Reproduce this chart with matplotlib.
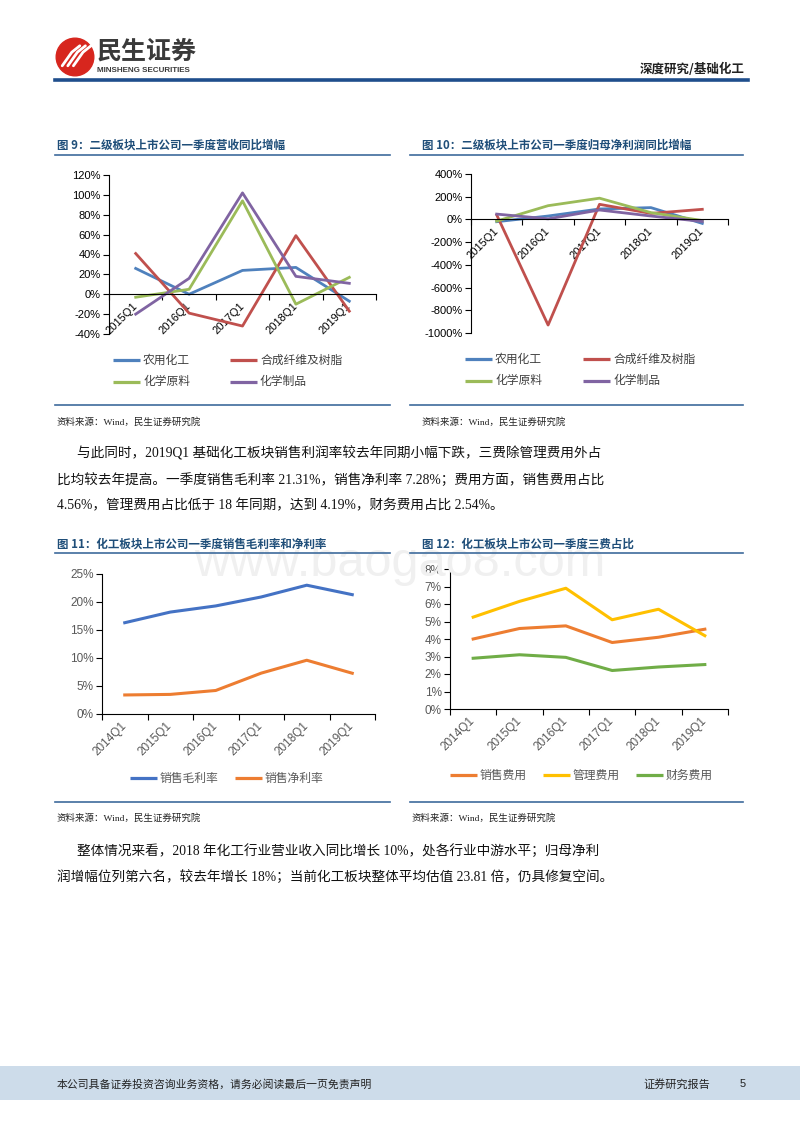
import matplotlib
matplotlib.use("Agg")
import matplotlib.pyplot as plt
from matplotlib.lines import Line2D
from matplotlib.patches import Circle
from matplotlib.ticker import FuncFormatter

W, H = 800, 1132
CJK = ["Noto Sans CJK SC", "DejaVu Sans"]
SERIF = ["Liberation Serif", "Noto Sans CJK SC"]
NUM = ["Liberation Sans", "DejaVu Sans"]
TITLE_BLUE = "#1f4e79"
RULE_BLUE = "#3e6b9c"

# ---- data ----
quarters5 = ["2015Q1", "2016Q1", "2017Q1", "2018Q1", "2019Q1"]
quarters6 = ["2014Q1", "2015Q1", "2016Q1", "2017Q1", "2018Q1", "2019Q1"]

series4 = ["农用化工", "合成纤维及树脂", "化学原料", "化学制品"]
colors4 = ["#4f81bd", "#c0504d", "#9bbb59", "#8064a2"]

# fig 9: revenue yoy growth (%)
rev_agri = [26, 0, 24, 27, -7]
rev_fiber = [41, -19, -32, 59, -17]
rev_raw = [-3, 5, 94, -10, 17]
rev_prod = [-20, 16, 102, 18, 11]

# fig 10: net profit yoy growth (%)
np_agri = [-20, 30, 92, 104, -35]
np_fiber = [40, -930, 133, 53, 89]
np_raw = [-15, 121, 187, 60, -10]
np_prod = [47, 5, 83, 30, -18]

# fig 11: margins (%)
margin_names = ["销售毛利率", "销售净利率"]
margin_colors = ["#4472c4", "#ed7d31"]
gross_margin = [16.3, 18.2, 19.3, 20.9, 23.0, 21.31]
net_margin = [3.4, 3.5, 4.2, 7.3, 9.6, 7.28]

# fig 12: expense ratios (%)
fee_names = ["销售费用", "管理费用", "财务费用"]
fee_colors = ["#ed7d31", "#ffc000", "#70ad47"]
sell_fee = [4.0, 4.6, 4.75, 3.8, 4.1, 4.56]
admin_fee = [5.25, 6.15, 6.9, 5.1, 5.7, 4.19]
fin_fee = [2.9, 3.1, 2.95, 2.2, 2.4, 2.54]

fig = plt.figure(figsize=(W / 100, H / 100), dpi=100)


def fx(x):
    return x / W


def fy(y):
    return 1 - y / H


def add_axes(x0, y0, x1, y1):
    return fig.add_axes([fx(x0), fy(y1), (x1 - x0) / W, (y1 - y0) / H])


def hline(x0, x1, y, color=RULE_BLUE, lw=1.2):
    fig.add_artist(Line2D([fx(x0), fx(x1)], [fy(y), fy(y)], transform=fig.transFigure,
                          color=color, lw=lw))


def style(ax, cats, yticks, zero_axis, label_color, size):
    # spine position first: moving it resets the tick labels
    for s in ("top", "right"):
        ax.spines[s].set_visible(False)
    for s in ("left", "bottom"):
        ax.spines[s].set_linewidth(0.8)
    if zero_axis:
        ax.spines["bottom"].set_position(("data", 0))
    n = len(cats)
    ax.set_xlim(0, n)
    ax.set_xticks([i + 0.5 for i in range(n)])
    ax.set_xticklabels(cats, rotation=45, ha="right", va="center",
                       rotation_mode="anchor", fontfamily=NUM, fontsize=size,
                       color=label_color)
    ax.set_xticks(range(n + 1), minor=True)
    ax.tick_params(axis="x", which="major", length=0, pad=7)
    ax.tick_params(axis="x", which="minor", length=4, direction="out", width=0.8)
    ax.set_yticks(yticks)
    ax.set_ylim(yticks[0], yticks[-1])
    ax.yaxis.set_major_formatter(FuncFormatter(lambda v, p: f"{v:.0f}%"))
    ax.tick_params(axis="y", length=4, direction="out", width=0.8, pad=2,
                   labelsize=size, labelcolor=label_color)
    for lab in ax.get_yticklabels():
        lab.set_fontfamily(NUM)
    ax.patch.set_alpha(0)


def legend(lines, spots, text_color="#404040"):
    for ln, (hx, y) in zip(lines, spots):
        fig.add_artist(Line2D([fx(hx), fx(hx + 27)], [fy(y), fy(y)], transform=fig.transFigure,
                              color=ln.get_color(), lw=2.3, solid_capstyle="butt"))
        fig.text(fx(hx + 30), fy(y), ln.get_label(), fontsize=8.5, family=CJK,
                 color=text_color, va="center", ha="left")


# ---- header ----
logo = add_axes(55, 37, 95, 77)
logo.set_xlim(0, 1)
logo.set_ylim(0, 1)
logo.set_aspect("equal")
logo.axis("off")
logo.add_patch(Circle((0.5, 0.5), 0.47, color="#d7261e"))
for dx in (0.0, 0.14, 0.28):
    logo.plot([0.18 + dx, 0.42 + dx, 0.62 + dx], [0.28, 0.62, 0.78], color="white",
              lw=2.0, solid_capstyle="round")
fig.text(fx(97), fy(52), "民生证券", fontsize=18, fontweight="bold", family=CJK,
         color="#3a3a3a", va="center", ha="left")
fig.text(fx(97), fy(70), "MINSHENG SECURITIES", fontsize=5.8, fontweight="bold",
         family=NUM, color="#3a3a3a", va="center", ha="left")
fig.text(fx(745), fy(69), "深度研究/基础化工", fontsize=9, fontweight="bold", family=CJK,
         color="#222222", va="center", ha="right")
hline(55, 748, 80, color="#1f4e8c", lw=2.6)

# watermark
fig.text(fx(400), fy(564), "www.baogao8.com", fontsize=35, family=NUM,
         color="#f0f0f0", va="center", ha="center", zorder=0)

# ---- figure 9 ----
fig.text(fx(57), fy(145), "图 9：二级板块上市公司一季度营收同比增幅", fontsize=8.3,
         fontweight="bold", family=CJK, color=TITLE_BLUE, va="center")
hline(55, 390, 155)
ax9 = add_axes(109, 175, 376, 334)
rev = [rev_agri, rev_fiber, rev_raw, rev_prod]
x5 = [i + 0.5 for i in range(len(quarters5))]
lines9 = [ax9.plot(x5, v, color=c, lw=2.0, label=n)[0] for v, c, n in zip(rev, colors4, series4)]
style(ax9, quarters5, [-40, -20, 0, 20, 40, 60, 80, 100, 120], True, "#000000", 8)
legend(lines9, [(113, 360), (230, 360), (113, 382), (230, 382)])
hline(55, 390, 405)
fig.text(fx(57), fy(422), "资料来源：Wind，民生证券研究院", fontsize=6.8, family=SERIF,
         color="#222222", va="center")

# ---- figure 10 ----
fig.text(fx(422), fy(145), "图 10：二级板块上市公司一季度归母净利润同比增幅", fontsize=8.3,
         fontweight="bold", family=CJK, color=TITLE_BLUE, va="center")
hline(410, 743, 155)
ax10 = add_axes(471, 174, 728, 333)
npg = [np_agri, np_fiber, np_raw, np_prod]
lines10 = [ax10.plot(x5, v, color=c, lw=2.0, label=n)[0] for v, c, n in zip(npg, colors4, series4)]
style(ax10, quarters5, [-1000, -800, -600, -400, -200, 0, 200, 400], True, "#000000", 8)
legend(lines10, [(465, 359), (583, 359), (465, 381), (583, 381)])
hline(410, 743, 405)
fig.text(fx(422), fy(422), "资料来源：Wind，民生证券研究院", fontsize=6.8, family=SERIF,
         color="#222222", va="center")

# ---- paragraph 1 ----
para1 = [
    (77, 453, "与此同时，2019Q1 基础化工板块销售利润率较去年同期小幅下跌，三费除管理费用外占"),
    (57, 480, "比均较去年提高。一季度销售毛利率 21.31%，销售净利率 7.28%；费用方面，销售费用占比"),
    (57, 506, "4.56%，管理费用占比低于 18 年同期，达到 4.19%，财务费用占比 2.54%。"),
]
for x, y, t in para1:
    fig.text(fx(x), fy(y), t, fontsize=9.8, family=SERIF, color="#111111", va="center")

# ---- figure 11 ----
fig.text(fx(57), fy(544), "图 11：化工板块上市公司一季度销售毛利率和净利率", fontsize=8.3,
         fontweight="bold", family=CJK, color=TITLE_BLUE, va="center")
hline(55, 390, 553)
ax11 = add_axes(102, 574, 375, 714)
x6 = [i + 0.5 for i in range(len(quarters6))]
lines11 = [ax11.plot(x6, v, color=c, lw=2.2, label=n)[0]
           for v, c, n in zip([gross_margin, net_margin], margin_colors, margin_names)]
style(ax11, quarters6, [0, 5, 10, 15, 20, 25], False, "#595959", 8.5)
legend(lines11, [(130, 778), (235, 778)], text_color="#595959")
hline(55, 390, 802)
fig.text(fx(57), fy(818), "资料来源：Wind，民生证券研究院", fontsize=6.8, family=SERIF,
         color="#222222", va="center")

# ---- figure 12 ----
fig.text(fx(422), fy(544), "图 12：化工板块上市公司一季度三费占比", fontsize=8.3,
         fontweight="bold", family=CJK, color=TITLE_BLUE, va="center")
hline(410, 743, 553)
ax12 = add_axes(450, 569, 728, 709)
lines12 = [ax12.plot(x6, v, color=c, lw=2.2, label=n)[0]
           for v, c, n in zip([sell_fee, admin_fee, fin_fee], fee_colors, fee_names)]
style(ax12, quarters6, [0, 1, 2, 3, 4, 5, 6, 7, 8], False, "#595959", 8.5)
legend(lines12, [(450, 775), (543, 775), (636, 775)], text_color="#595959")
hline(410, 743, 802)
fig.text(fx(412), fy(818), "资料来源：Wind，民生证券研究院", fontsize=6.8, family=SERIF,
         color="#222222", va="center")

# ---- paragraph 2 ----
para2 = [
    (77, 851, "整体情况来看，2018 年化工行业营业收入同比增长 10%，处各行业中游水平；归母净利"),
    (57, 877, "润增幅位列第六名，较去年增长 18%；当前化工板块整体平均估值 23.81 倍，仍具修复空间。"),
]
for x, y, t in para2:
    fig.text(fx(x), fy(y), t, fontsize=9.8, family=SERIF, color="#111111", va="center")

# ---- footer ----
fig.patches.append(plt.Rectangle((0, fy(1100)), 1, (1100 - 1066) / H, transform=fig.transFigure,
                                 facecolor="#cddcea", edgecolor="none", zorder=0))
fig.text(fx(57), fy(1084), "本公司具备证券投资咨询业务资格，请务必阅读最后一页免责声明",
         fontsize=7.8, family=CJK, color="#222222", va="center")
fig.text(fx(643), fy(1084), "证券研究报告", fontsize=8, family=CJK, color="#222222", va="center")
fig.text(fx(740), fy(1084), "5", fontsize=8, family=NUM, color="#222222", va="center")

fig.savefig("out.png", dpi=100)
